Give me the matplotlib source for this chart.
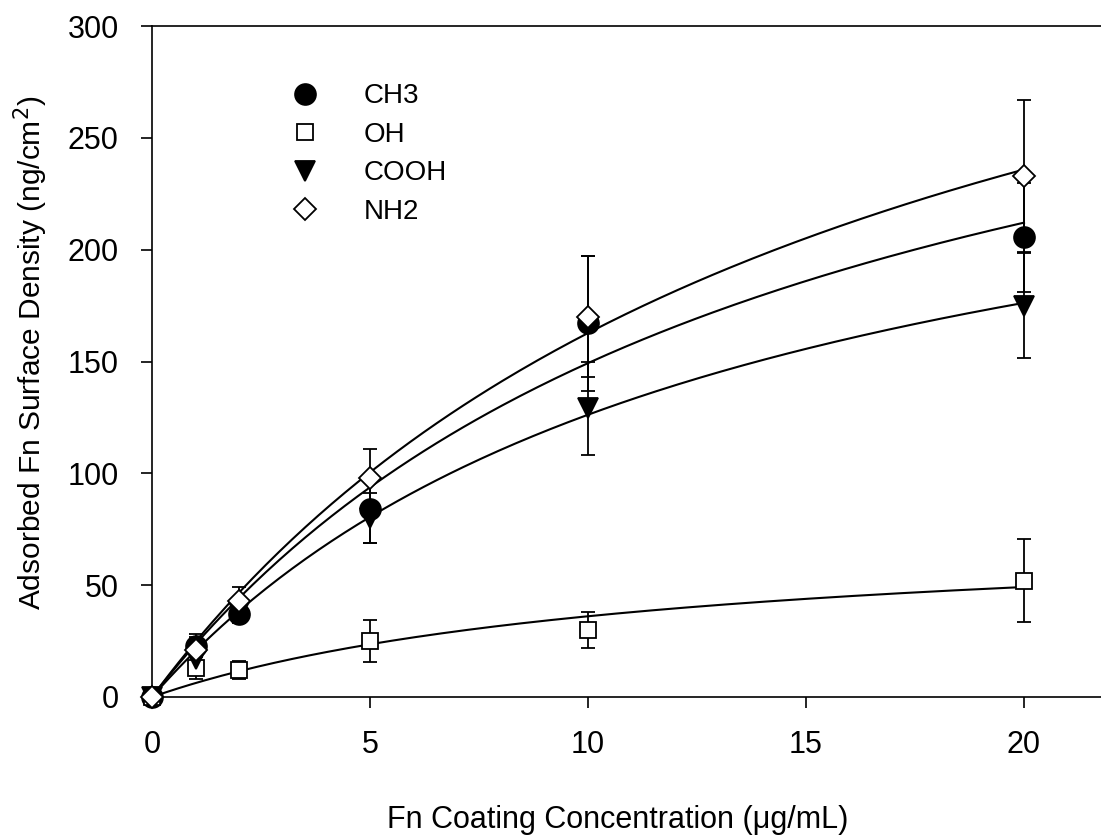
import numpy as np
import matplotlib
matplotlib.use("Agg")
import matplotlib.pyplot as plt

plt.rcParams["font.family"] = ["Liberation Sans", "DejaVu Sans"]

conc = [0, 1, 2, 5, 10, 20]
ch3 = [0, 23, 37, 84, 167, 205.5]
ch3_err = [0, 5, 3, 15, 30, 24.5]
oh = [0, 13, 12, 25, 30, 52]
oh_err = [0, 5, 4, 9.5, 8, 18.5]
cooh = [0, 17, 38, 80, 129, 175]
cooh_err = [0, 6, 5, 11, 21, 23.5]
nh2 = [0, 21, 43, 98, 170, 233]
nh2_err = [0, 6, 6, 13, 27, 34]

series = [
    ("CH3", ch3, ch3_err, dict(marker="o", ms=15, mfc="black", mec="black")),
    ("OH", oh, oh_err, dict(marker="s", ms=12, mfc="white", mec="black")),
    ("COOH", cooh, cooh_err, dict(marker="v", ms=15, mfc="black", mec="black")),
    ("NH2", nh2, nh2_err, dict(marker="D", ms=11, mfc="white", mec="black")),
]


def hyperbola_fit(x, y):
    # y = a*x/(b+x), grid search over b, a by least squares
    x = np.asarray(x, float)
    y = np.asarray(y, float)
    best = None
    for b in np.linspace(0.5, 80, 800):
        f = x / (b + x)
        a = (f @ y) / (f @ f)
        r = np.sum((y - a * f) ** 2)
        if best is None or r < best[0]:
            best = (r, a, b)
    return best[1], best[2]


fig = plt.figure(figsize=(11.01, 8.39), dpi=100)
ax = fig.add_axes([152 / 1101, 1 - 697 / 839, (1101 - 152) / 1101, (697 - 26) / 839])

xs = np.linspace(0, 20, 200)
for name, y, err, style in series:
    a, b = hyperbola_fit(conc, y)
    ax.plot(xs, a * xs / (b + xs), color="black", lw=1.5, zorder=2)
    ax.errorbar(conc, y, yerr=err, fmt="none", ecolor="black", elinewidth=1.3,
                capsize=5, capthick=1.3, zorder=3)
    ax.plot(conc, y, ls="none", mew=1.3, label=name, zorder=4, clip_on=False,
            **style)

ax.set_xlim(0, (1101 - 152) / 43.6)
ax.set_ylim(0, 300)
ax.set_xticks([0, 5, 10, 15, 20])
ax.set_yticks(range(0, 301, 50))
ax.tick_params(direction="out", length=8, width=1.2, labelsize=22)
ax.tick_params(axis="x", pad=16)
ax.tick_params(axis="y", pad=16)
ax.spines["right"].set_visible(False)
for s in ["left", "bottom", "top"]:
    ax.spines[s].set_linewidth(1.2)

ax.set_xlabel("Fn Coating Concentration (μg/mL)", fontsize=22)
ax.xaxis.set_label_coords((618 - 152) / (1101 - 152), -(805 - 697) / (697 - 26))
ax.set_ylabel("Adsorbed Fn Surface Density (ng/cm$^2$)", fontsize=21.5)
ax.yaxis.set_label_coords(-(152 - 50) / (1101 - 152), 0.513)

ax.legend(loc="upper left", bbox_to_anchor=(0.135, 0.931), frameon=False,
          fontsize=20, handlelength=1.0, handletextpad=1.6, labelspacing=0.45,
          borderaxespad=0)

fig.savefig("out.png", dpi=100)
